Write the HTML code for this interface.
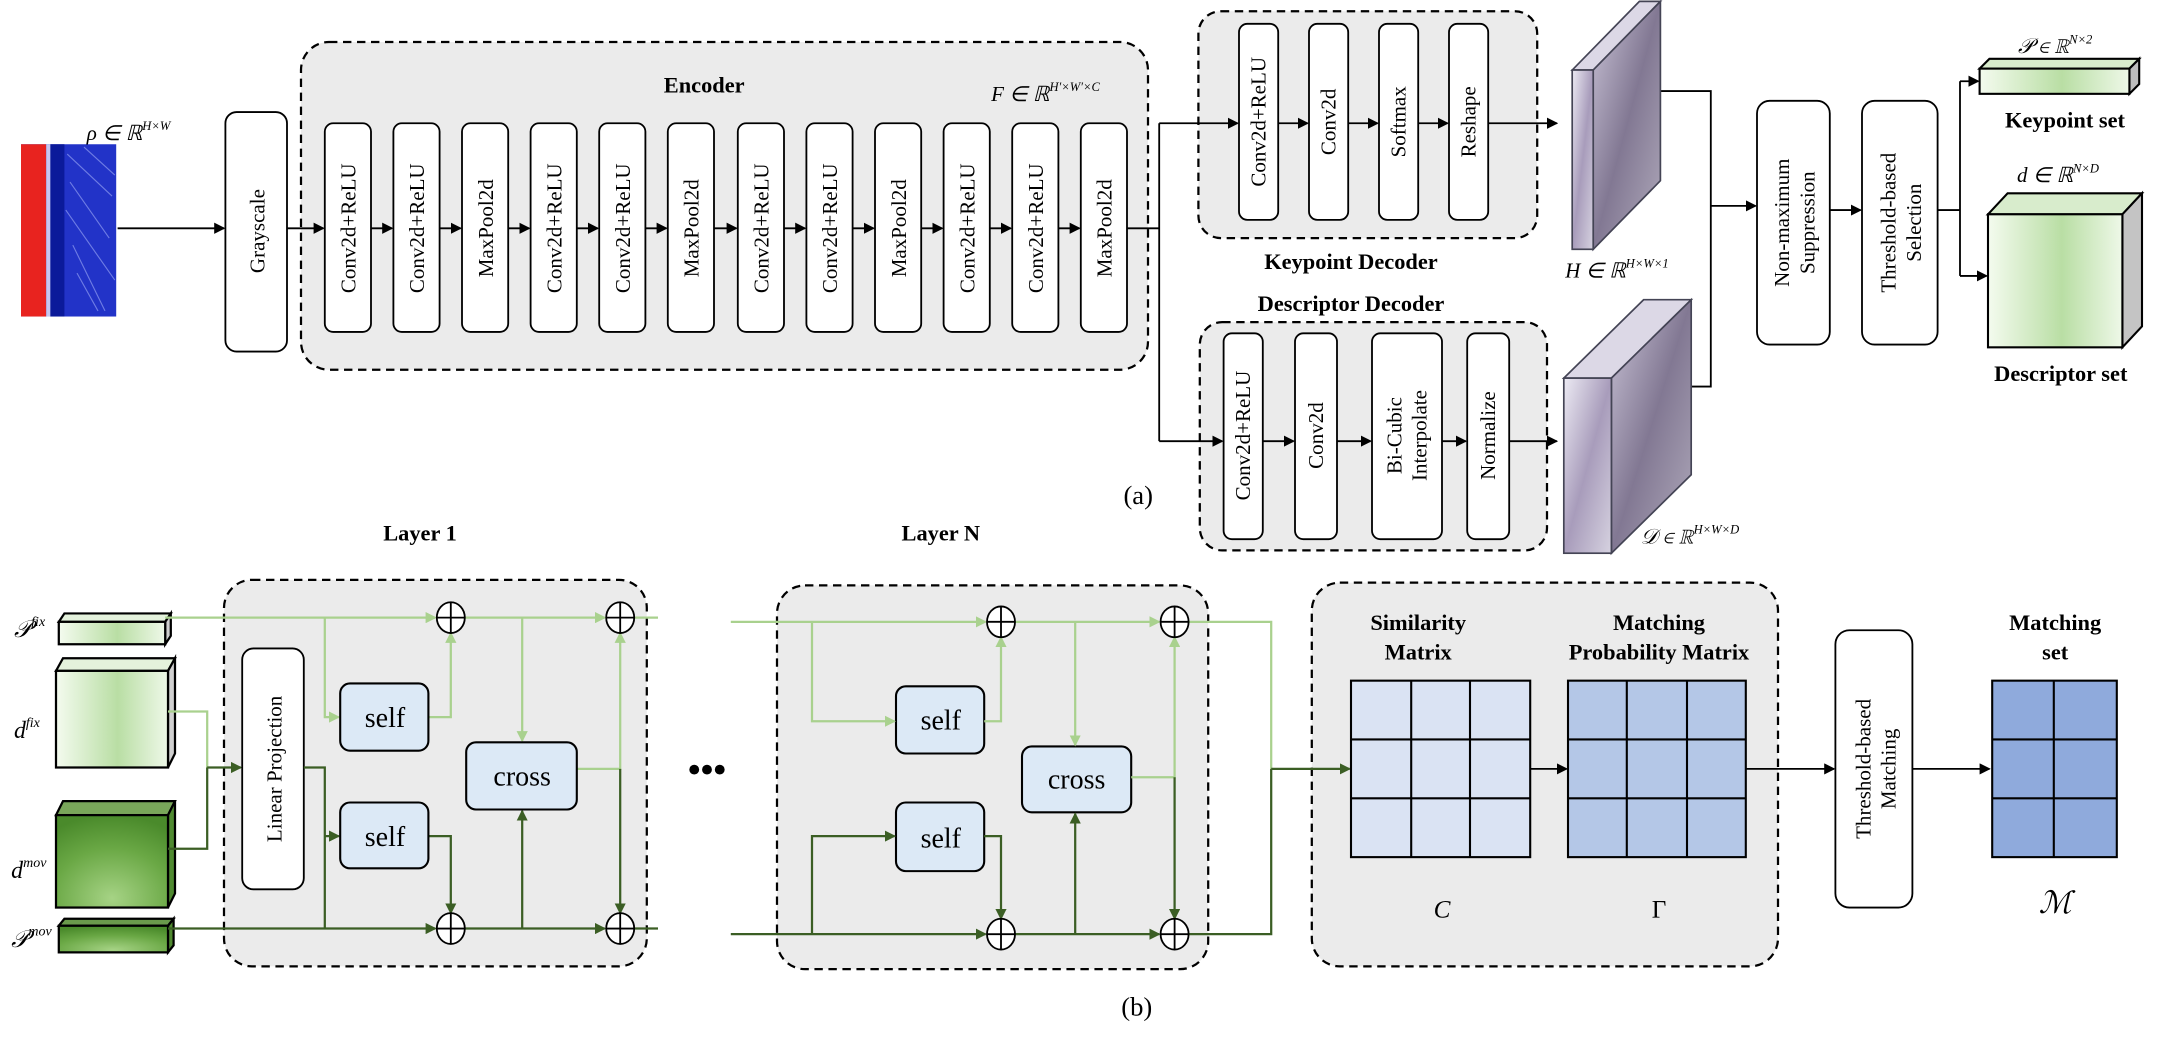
<!DOCTYPE html>
<html><head><meta charset="utf-8"><style>
html,body{margin:0;padding:0;background:#fff;}
svg{display:block;}
text{font-family:"Liberation Serif","Times New Roman",serif;fill:#000;}
.b{font-weight:bold;}
</style></head><body>
<svg width="2184" height="1042" viewBox="0 0 1560 744" preserveAspectRatio="none" xmlns="http://www.w3.org/2000/svg">
<defs>
<marker id="ak" markerWidth="8" markerHeight="8" refX="7" refY="4" orient="auto" markerUnits="userSpaceOnUse"><path d="M0,0 L8,4 L0,8 z" fill="#000"/></marker>
<marker id="al" markerWidth="8" markerHeight="8" refX="7" refY="4" orient="auto" markerUnits="userSpaceOnUse"><path d="M0,0 L8,4 L0,8 z" fill="#a9d18e"/></marker>
<marker id="ad" markerWidth="8" markerHeight="8" refX="7" refY="4" orient="auto" markerUnits="userSpaceOnUse"><path d="M0,0 L8,4 L0,8 z" fill="#3b5e24"/></marker>
<linearGradient id="lg" x1="0" x2="1" y1="0" y2="0"><stop offset="0" stop-color="#f4fbef"/><stop offset="0.55" stop-color="#b9dea4"/><stop offset="1" stop-color="#eef8e8"/></linearGradient>
<radialGradient id="dg" cx="0.5" cy="0.9" r="0.9"><stop offset="0" stop-color="#a6d385"/><stop offset="0.6" stop-color="#6aa845"/><stop offset="1" stop-color="#4a8a2b"/></radialGradient>
<linearGradient id="pg" x1="0" x2="1" y1="0" y2="1"><stop offset="0" stop-color="#eceaf3"/><stop offset="0.5" stop-color="#a89cbb"/><stop offset="1" stop-color="#d6d2e0"/></linearGradient>
<linearGradient id="ps" x1="0" x2="1" y1="0" y2="1"><stop offset="0" stop-color="#c9c3d6"/><stop offset="0.5" stop-color="#827893"/><stop offset="1" stop-color="#b0aabb"/></linearGradient>
</defs>

<!-- heatmap -->
<rect x="15" y="103" width="68" height="123" fill="#2233c8"/>
<rect x="15" y="103" width="18" height="123" fill="#e8231f"/>
<rect x="33" y="103" width="3" height="123" fill="#c7c7ef"/>
<rect x="36" y="103" width="10" height="123" fill="#0b1a9a"/>
<g stroke="#8f9cf0" stroke-width="0.8" opacity="0.7">
<path d="M48,110 L80,140 M50,130 L78,170 M47,150 L82,200 M52,175 L75,222 M60,105 L82,125 M55,195 L70,222"/>
</g>
<text x="62" y="100" font-size="15" font-style="italic">ρ ∈ ℝ<tspan font-size="9" dy="-7">H×W</tspan></text>

<line x1="84" y1="163" x2="160" y2="163" stroke="#000" stroke-width="1.3" marker-end="url(#ak)"/>
<rect x="161" y="80" width="44" height="171" rx="8" fill="#fff" stroke="#000" stroke-width="1.3"/>
<text transform="translate(189,165) rotate(-90)" font-size="15" text-anchor="middle">Grayscale</text>

<!-- encoder -->
<rect x="215" y="30" width="605" height="234" rx="20" fill="#ebebeb" stroke="#000" stroke-width="1.6" stroke-dasharray="6,4"/>
<text x="503" y="66" class="b" font-size="16" text-anchor="middle">Encoder</text>
<text x="708" y="72" font-size="15" font-style="italic">F ∈ ℝ<tspan font-size="9" dy="-7">H′×W′×C</tspan></text>
<line x1="205" y1="163" x2="231" y2="163" stroke="#000" stroke-width="1.3" marker-end="url(#ak)"/>
<g font-size="15" text-anchor="middle">
<rect x="232" y="88" width="33" height="149" rx="6" fill="#fff" stroke="#000" stroke-width="1.3"/><text transform="translate(254,163) rotate(-90)">Conv2d+ReLU</text>
<rect x="281" y="88" width="33" height="149" rx="6" fill="#fff" stroke="#000" stroke-width="1.3"/><text transform="translate(303,163) rotate(-90)">Conv2d+ReLU</text>
<rect x="330" y="88" width="33" height="149" rx="6" fill="#fff" stroke="#000" stroke-width="1.3"/><text transform="translate(352,163) rotate(-90)">MaxPool2d</text>
<rect x="379" y="88" width="33" height="149" rx="6" fill="#fff" stroke="#000" stroke-width="1.3"/><text transform="translate(401,163) rotate(-90)">Conv2d+ReLU</text>
<rect x="428" y="88" width="33" height="149" rx="6" fill="#fff" stroke="#000" stroke-width="1.3"/><text transform="translate(450,163) rotate(-90)">Conv2d+ReLU</text>
<rect x="477" y="88" width="33" height="149" rx="6" fill="#fff" stroke="#000" stroke-width="1.3"/><text transform="translate(499,163) rotate(-90)">MaxPool2d</text>
<rect x="527" y="88" width="33" height="149" rx="6" fill="#fff" stroke="#000" stroke-width="1.3"/><text transform="translate(549,163) rotate(-90)">Conv2d+ReLU</text>
<rect x="576" y="88" width="33" height="149" rx="6" fill="#fff" stroke="#000" stroke-width="1.3"/><text transform="translate(598,163) rotate(-90)">Conv2d+ReLU</text>
<rect x="625" y="88" width="33" height="149" rx="6" fill="#fff" stroke="#000" stroke-width="1.3"/><text transform="translate(647,163) rotate(-90)">MaxPool2d</text>
<rect x="674" y="88" width="33" height="149" rx="6" fill="#fff" stroke="#000" stroke-width="1.3"/><text transform="translate(696,163) rotate(-90)">Conv2d+ReLU</text>
<rect x="723" y="88" width="33" height="149" rx="6" fill="#fff" stroke="#000" stroke-width="1.3"/><text transform="translate(745,163) rotate(-90)">Conv2d+ReLU</text>
<rect x="772" y="88" width="33" height="149" rx="6" fill="#fff" stroke="#000" stroke-width="1.3"/><text transform="translate(794,163) rotate(-90)">MaxPool2d</text>
</g>
<g stroke="#000" stroke-width="1.3" marker-end="url(#ak)">
<line x1="265" y1="163" x2="280" y2="163"/><line x1="314" y1="163" x2="329" y2="163"/><line x1="363" y1="163" x2="378" y2="163"/>
<line x1="412" y1="163" x2="427" y2="163"/><line x1="461" y1="163" x2="476" y2="163"/><line x1="510" y1="163" x2="526" y2="163"/>
<line x1="560" y1="163" x2="575" y2="163"/><line x1="609" y1="163" x2="624" y2="163"/><line x1="658" y1="163" x2="673" y2="163"/>
<line x1="707" y1="163" x2="722" y2="163"/><line x1="756" y1="163" x2="771" y2="163"/>
</g>
<polyline points="805,163 828,163" fill="none" stroke="#000" stroke-width="1.3"/>
<polyline points="828,88 828,315" fill="none" stroke="#000" stroke-width="1.3"/>

<!-- keypoint decoder -->
<rect x="856" y="8" width="242" height="162" rx="16" fill="#ebebeb" stroke="#000" stroke-width="1.6" stroke-dasharray="6,4"/>
<line x1="828" y1="88" x2="884" y2="88" stroke="#000" stroke-width="1.3" marker-end="url(#ak)"/>
<g font-size="15" text-anchor="middle">
<rect x="885" y="17" width="28" height="140" rx="6" fill="#fff" stroke="#000" stroke-width="1.3"/><text transform="translate(904,87) rotate(-90)">Conv2d+ReLU</text>
<rect x="935" y="17" width="28" height="140" rx="6" fill="#fff" stroke="#000" stroke-width="1.3"/><text transform="translate(954,87) rotate(-90)">Conv2d</text>
<rect x="985" y="17" width="28" height="140" rx="6" fill="#fff" stroke="#000" stroke-width="1.3"/><text transform="translate(1004,87) rotate(-90)">Softmax</text>
<rect x="1035" y="17" width="28" height="140" rx="6" fill="#fff" stroke="#000" stroke-width="1.3"/><text transform="translate(1054,87) rotate(-90)">Reshape</text>
</g>
<g stroke="#000" stroke-width="1.3" marker-end="url(#ak)">
<line x1="913" y1="88" x2="934" y2="88"/><line x1="963" y1="88" x2="984" y2="88"/><line x1="1013" y1="88" x2="1034" y2="88"/><line x1="1063" y1="88" x2="1112" y2="88"/>
</g>
<text x="965" y="192" class="b" font-size="16" text-anchor="middle">Keypoint Decoder</text>
<text x="965" y="222" class="b" font-size="16" text-anchor="middle">Descriptor Decoder</text>

<!-- descriptor decoder -->
<rect x="857" y="230" width="248" height="163" rx="16" fill="#ebebeb" stroke="#000" stroke-width="1.6" stroke-dasharray="6,4"/>
<line x1="828" y1="315" x2="873" y2="315" stroke="#000" stroke-width="1.3" marker-end="url(#ak)"/>
<g font-size="15" text-anchor="middle">
<rect x="874" y="238" width="28" height="147" rx="6" fill="#fff" stroke="#000" stroke-width="1.3"/><text transform="translate(893,311) rotate(-90)">Conv2d+ReLU</text>
<rect x="925" y="238" width="30" height="147" rx="6" fill="#fff" stroke="#000" stroke-width="1.3"/><text transform="translate(945,311) rotate(-90)">Conv2d</text>
<rect x="980" y="238" width="50" height="147" rx="6" fill="#fff" stroke="#000" stroke-width="1.3"/><text transform="translate(1001,311) rotate(-90)">Bi-Cubic</text><text transform="translate(1019,311) rotate(-90)">Interpolate</text>
<rect x="1048" y="238" width="30" height="147" rx="6" fill="#fff" stroke="#000" stroke-width="1.3"/><text transform="translate(1068,311) rotate(-90)">Normalize</text>
</g>
<g stroke="#000" stroke-width="1.3" marker-end="url(#ak)">
<line x1="902" y1="315" x2="924" y2="315"/><line x1="955" y1="315" x2="979" y2="315"/><line x1="1030" y1="315" x2="1047" y2="315"/><line x1="1078" y1="315" x2="1112" y2="315"/>
</g>

<!-- H slab -->
<polyline points="1186,65 1222,65 1222,276 1208,276" fill="none" stroke="#000" stroke-width="1.3"/>
<line x1="1222" y1="147" x2="1254" y2="147" stroke="#000" stroke-width="1.3" marker-end="url(#ak)"/>
<polygon points="1123,50 1171,1 1186,1 1138,50" fill="#dcd8e6" stroke="#445" stroke-width="1.2"/>
<polygon points="1138,50 1186,1 1186,129 1138,178" fill="url(#ps)" stroke="#445" stroke-width="1.2"/>
<rect x="1123" y="50" width="15" height="128" fill="url(#pg)" stroke="#445" stroke-width="1.2"/>
<text x="1118" y="198" font-size="15" font-style="italic">H ∈ ℝ<tspan font-size="9" dy="-7">H×W×1</tspan></text>
<!-- D slab -->
<polygon points="1117,270 1174,214 1208,214 1151,270" fill="#dcd8e6" stroke="#445" stroke-width="1.2"/>
<polygon points="1151,270 1208,214 1208,339 1151,395" fill="url(#ps)" stroke="#445" stroke-width="1.2"/>
<rect x="1117" y="270" width="34" height="125" fill="url(#pg)" stroke="#445" stroke-width="1.2"/>
<text x="1172" y="388" font-size="15" font-style="italic">𝒟 ∈ ℝ<tspan font-size="9" dy="-7">H×W×D</tspan></text>

<rect x="1255" y="72" width="52" height="174" rx="9" fill="#fff" stroke="#000" stroke-width="1.3"/>
<text transform="translate(1278,159) rotate(-90)" font-size="15" text-anchor="middle">Non-maximum</text>
<text transform="translate(1296,159) rotate(-90)" font-size="15" text-anchor="middle">Suppression</text>
<line x1="1307" y1="150" x2="1329" y2="150" stroke="#000" stroke-width="1.3" marker-end="url(#ak)"/>
<rect x="1330" y="72" width="54" height="174" rx="9" fill="#fff" stroke="#000" stroke-width="1.3"/>
<text transform="translate(1354,159) rotate(-90)" font-size="15" text-anchor="middle">Threshold-based</text>
<text transform="translate(1372,159) rotate(-90)" font-size="15" text-anchor="middle">Selection</text>
<polyline points="1384,150 1400,150" fill="none" stroke="#000" stroke-width="1.3"/>
<polyline points="1400,58 1400,197" fill="none" stroke="#000" stroke-width="1.3"/>
<line x1="1400" y1="58" x2="1413" y2="58" stroke="#000" stroke-width="1.3" marker-end="url(#ak)"/>
<line x1="1400" y1="197" x2="1419" y2="197" stroke="#000" stroke-width="1.3" marker-end="url(#ak)"/>

<!-- keypoint set -->
<polygon points="1414,49 1421,42 1528,42 1521,49" fill="#d8eccc" stroke="#000" stroke-width="1.5"/>
<polygon points="1521,49 1528,42 1528,60 1521,67" fill="#bdbdbd" stroke="#000" stroke-width="1.5"/>
<rect x="1414" y="49" width="107" height="18" fill="url(#lg)" stroke="#000" stroke-width="1.5"/>
<text x="1468" y="38" font-size="15" font-style="italic" text-anchor="middle">𝒫 ∈ ℝ<tspan font-size="9" dy="-7">N×2</tspan></text>
<text x="1475" y="91" class="b" font-size="16" text-anchor="middle">Keypoint set</text>
<!-- descriptor set -->
<polygon points="1420,153 1434,138 1530,138 1516,153" fill="#d8eccc" stroke="#000" stroke-width="1.5"/>
<polygon points="1516,153 1530,138 1530,233 1516,248" fill="#c4c4c4" stroke="#000" stroke-width="1.5"/>
<rect x="1420" y="153" width="96" height="95" fill="url(#lg)" stroke="#000" stroke-width="1.5"/>
<text x="1470" y="130" font-size="15" font-style="italic" text-anchor="middle">d ∈ ℝ<tspan font-size="9" dy="-7">N×D</tspan></text>
<text x="1472" y="272" class="b" font-size="16" text-anchor="middle">Descriptor set</text>
<text x="813" y="360" font-size="19" text-anchor="middle">(a)</text>

<!-- ===== part b ===== -->
<text x="300" y="386" class="b" font-size="16" text-anchor="middle">Layer 1</text>
<text x="672" y="386" class="b" font-size="16" text-anchor="middle">Layer N</text>

<rect x="160" y="414" width="302" height="276" rx="20" fill="#ebebeb" stroke="#000" stroke-width="1.6" stroke-dasharray="6,4"/>
<rect x="555" y="418" width="308" height="274" rx="20" fill="#ebebeb" stroke="#000" stroke-width="1.6" stroke-dasharray="6,4"/>
<rect x="937" y="416" width="333" height="274" rx="20" fill="#ebebeb" stroke="#000" stroke-width="1.6" stroke-dasharray="6,4"/>

<!-- input cuboids -->
<polygon points="42,444 46,438 122,438 118,444" fill="#e4f2dc" stroke="#000" stroke-width="1.6"/>
<polygon points="118,444 122,438 122,454 118,460" fill="#cfcfcf" stroke="#000" stroke-width="1.6"/>
<rect x="42" y="444" width="76" height="16" fill="url(#lg)" stroke="#000" stroke-width="1.6"/>
<polygon points="40,479 45,470 125,470 120,479" fill="#e4f2dc" stroke="#000" stroke-width="1.6"/>
<polygon points="120,479 125,470 125,538 120,548" fill="#cfcfcf" stroke="#000" stroke-width="1.6"/>
<rect x="40" y="479" width="80" height="69" fill="url(#lg)" stroke="#000" stroke-width="1.6"/>
<polygon points="40,582 45,572 125,572 120,582" fill="#79a65a" stroke="#000" stroke-width="1.6"/>
<polygon points="120,582 125,572 125,638 120,648" fill="#4f8a30" stroke="#000" stroke-width="1.6"/>
<rect x="40" y="582" width="80" height="66" fill="url(#dg)" stroke="#000" stroke-width="1.6"/>
<polygon points="42,661 46,656 124,656 120,661" fill="#6a9a4c" stroke="#000" stroke-width="1.6"/>
<polygon points="120,661 124,656 124,675 120,680" fill="#4f8a30" stroke="#000" stroke-width="1.6"/>
<rect x="42" y="661" width="78" height="19" fill="url(#dg)" stroke="#000" stroke-width="1.6"/>
<g font-size="17" font-style="italic">
<text x="10" y="455">𝒫<tspan font-size="10" dy="-8">fix</tspan></text>
<text x="10" y="527">d<tspan font-size="10" dy="-8">fix</tspan></text>
<text x="8" y="627">d<tspan font-size="10" dy="-8">mov</tspan></text>
<text x="8" y="676">𝒫<tspan font-size="10" dy="-8">mov</tspan></text>
</g>

<!-- layer1 wiring -->
<polyline points="120,508 148,508 148,548" fill="none" stroke="#a9d18e" stroke-width="1.6"/>
<polyline points="120,606 148,606 148,548" fill="none" stroke="#3b5e24" stroke-width="1.6"/>
<line x1="148" y1="548" x2="172" y2="548" stroke="#3b5e24" stroke-width="1.6" marker-end="url(#ad)"/>
<rect x="173" y="463" width="44" height="172" rx="8" fill="#fff" stroke="#000" stroke-width="1.3"/>
<text transform="translate(201,549) rotate(-90)" font-size="15" text-anchor="middle">Linear Projection</text>

<g fill="none" stroke-width="1.6">
<line x1="118" y1="441" x2="311" y2="441" stroke="#a9d18e" marker-end="url(#al)"/>
<polyline points="232,441 232,512 242,512" stroke="#a9d18e" marker-end="url(#al)"/>
<polyline points="306,512 322,512 322,452" stroke="#a9d18e" marker-end="url(#al)"/>
<line x1="332" y1="441" x2="432" y2="441" stroke="#a9d18e" marker-end="url(#al)"/>
<polyline points="373,441 373,529" stroke="#a9d18e" marker-end="url(#al)"/>
<polyline points="412,549 443,549 443,452" stroke="#a9d18e" marker-end="url(#al)"/>
<polyline points="217,548 232,548 232,663" stroke="#3b5e24"/>
<line x1="232" y1="597" x2="242" y2="597" stroke="#3b5e24" marker-end="url(#ad)"/>
<line x1="120" y1="663" x2="311" y2="663" stroke="#3b5e24" marker-end="url(#ad)"/>
<polyline points="306,597 322,597 322,652" stroke="#3b5e24" marker-end="url(#ad)"/>
<line x1="332" y1="663" x2="432" y2="663" stroke="#3b5e24" marker-end="url(#ad)"/>
<polyline points="373,663 373,579" stroke="#3b5e24" marker-end="url(#ad)"/>
<polyline points="443,549 443,652" stroke="#3b5e24" marker-end="url(#ad)"/>
<line x1="453" y1="441" x2="470" y2="441" stroke="#a9d18e"/>
<line x1="453" y1="663" x2="470" y2="663" stroke="#3b5e24"/>
</g>
<g fill="#dce9f6" stroke="#000" stroke-width="1.5">
<rect x="243" y="488" width="63" height="48" rx="7"/>
<rect x="243" y="573" width="63" height="47" rx="7"/>
<rect x="333" y="530" width="79" height="48" rx="7"/>
<rect x="640" y="490" width="63" height="48" rx="7"/>
<rect x="640" y="573" width="63" height="49" rx="7"/>
<rect x="730" y="533" width="78" height="47" rx="7"/>
</g>
<g font-size="20" text-anchor="middle">
<text x="275" y="519">self</text><text x="275" y="604">self</text><text x="373" y="561">cross</text>
<text x="672" y="521">self</text><text x="672" y="605">self</text><text x="769" y="563">cross</text>
</g>
<text x="505" y="558" font-size="26" text-anchor="middle" font-weight="bold">•••</text>

<!-- layer N wiring -->
<g fill="none" stroke-width="1.6">
<line x1="522" y1="444" x2="704" y2="444" stroke="#a9d18e" marker-end="url(#al)"/>
<polyline points="580,444 580,515 639,515" stroke="#a9d18e" marker-end="url(#al)"/>
<polyline points="703,515 715,515 715,455" stroke="#a9d18e" marker-end="url(#al)"/>
<line x1="725" y1="444" x2="828" y2="444" stroke="#a9d18e" marker-end="url(#al)"/>
<polyline points="768,444 768,532" stroke="#a9d18e" marker-end="url(#al)"/>
<polyline points="808,555 839,555 839,455" stroke="#a9d18e" marker-end="url(#al)"/>
<line x1="522" y1="667" x2="704" y2="667" stroke="#3b5e24" marker-end="url(#ad)"/>
<polyline points="580,667 580,597 639,597" stroke="#3b5e24" marker-end="url(#ad)"/>
<polyline points="703,597 715,597 715,656" stroke="#3b5e24" marker-end="url(#ad)"/>
<line x1="725" y1="667" x2="828" y2="667" stroke="#3b5e24" marker-end="url(#ad)"/>
<polyline points="768,667 768,581" stroke="#3b5e24" marker-end="url(#ad)"/>
<polyline points="839,555 839,656" stroke="#3b5e24" marker-end="url(#ad)"/>
<polyline points="849,444 908,444 908,549" stroke="#a9d18e"/>
<polyline points="849,667 908,667 908,549" stroke="#3b5e24"/>
<line x1="908" y1="549" x2="964" y2="549" stroke="#3b5e24" marker-end="url(#ad)"/>
</g>
<g fill="#fff" stroke="#000" stroke-width="1.3">
<ellipse cx="322" cy="441" rx="10" ry="11"/><ellipse cx="443" cy="441" rx="10" ry="11"/>
<ellipse cx="322" cy="663" rx="10" ry="11"/><ellipse cx="443" cy="663" rx="10" ry="11"/>
<ellipse cx="715" cy="444" rx="10" ry="11"/><ellipse cx="839" cy="444" rx="10" ry="11"/>
<ellipse cx="715" cy="667" rx="10" ry="11"/><ellipse cx="839" cy="667" rx="10" ry="11"/>
</g>
<g stroke="#000" stroke-width="1.3">
<path d="M312,441h20M322,430v22M433,441h20M443,430v22M312,663h20M322,652v22M433,663h20M443,652v22"/>
<path d="M705,444h20M715,433v22M829,444h20M839,433v22M705,667h20M715,656v22M829,667h20M839,656v22"/>
</g>

<!-- matrices -->
<g class="b" font-size="16" text-anchor="middle">
<text x="1013" y="450">Similarity</text><text x="1013" y="471">Matrix</text>
<text x="1185" y="450">Matching</text><text x="1185" y="471">Probability Matrix</text>
<text x="1468" y="450">Matching</text><text x="1468" y="471">set</text>
</g>
<g stroke="#000" stroke-width="1.5">
<rect x="965" y="486" width="128" height="126" fill="#dae3f3"/>
<path d="M1008,486v126M1050,486v126M965,528h128M965,570h128" fill="none"/>
<rect x="1120" y="486" width="127" height="126" fill="#b4c7e7"/>
<path d="M1162,486v126M1205,486v126M1120,528h127M1120,570h127" fill="none"/>
<rect x="1423" y="486" width="89" height="126" fill="#8faadc"/>
<path d="M1467,486v126M1423,528h89M1423,570h89" fill="none"/>
</g>
<line x1="1093" y1="549" x2="1119" y2="549" stroke="#000" stroke-width="1.3" marker-end="url(#ak)"/>
<text x="1030" y="655" font-size="18" font-style="italic" text-anchor="middle">C</text>
<text x="1185" y="655" font-size="18" text-anchor="middle">Γ</text>
<text x="1468" y="652" font-size="22" font-style="italic" text-anchor="middle">ℳ</text>
<line x1="1247" y1="549" x2="1310" y2="549" stroke="#000" stroke-width="1.3" marker-end="url(#ak)"/>
<rect x="1311" y="450" width="55" height="198" rx="10" fill="#fff" stroke="#000" stroke-width="1.3"/>
<text transform="translate(1336,549) rotate(-90)" font-size="15" text-anchor="middle">Threshold-based</text>
<text transform="translate(1354,549) rotate(-90)" font-size="15" text-anchor="middle">Matching</text>
<line x1="1366" y1="549" x2="1421" y2="549" stroke="#000" stroke-width="1.3" marker-end="url(#ak)"/>
<text x="812" y="725" font-size="19" text-anchor="middle">(b)</text>
</svg>
</body></html>
